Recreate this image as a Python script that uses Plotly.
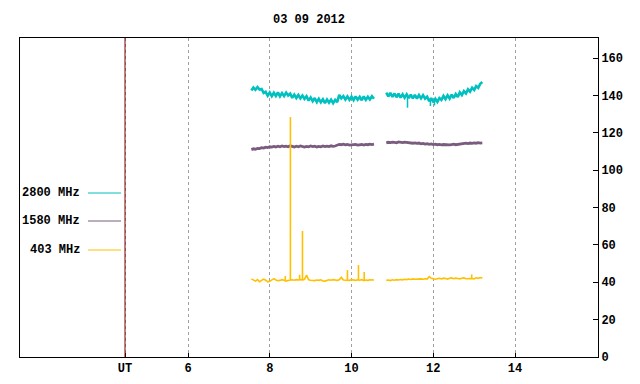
import plotly.graph_objects as go

# ---------------- data ----------------
title_text = "03 09 2012"
series_names = ["2800 MHz", "1580 MHz", "403 MHz"]
series_colors = ["#00c0c0", "#7a5c7e", "#ffc000"]

# sampling times (UT hours) of the two observing segments
t_seg1 = [round(7.55 + 0.05 * i, 2) for i in range(61)]   # 7.55 .. 10.55
t_seg2 = [round(10.85 + 0.05 * i, 2) for i in range(48)]  # 10.85 .. 13.20

f2800_seg1 = [142.6, 144.2, 143.0, 144.4, 143.1, 143.4, 141.3, 141.9, 139.8, 141.5,
              139.6, 141.4, 139.7, 141.6, 139.5, 141.2, 139.6, 141.5, 139.9, 140.9,
              138.7, 140.4, 138.6, 140.2, 138.4, 139.9, 138.1, 139.5, 137.2, 138.9,
              136.9, 138.6, 136.4, 138.2, 136.3, 137.9, 135.9, 137.8, 136.1, 137.7,
              135.8, 137.6, 136.4, 140.3, 138.4, 139.6, 137.8, 139.4, 137.6, 139.3,
              137.5, 139.5, 137.7, 139.2, 137.4, 139.4, 137.6, 139.3, 137.8, 139.5,
              138.2]
f2800_seg2 = [141.5, 139.4, 141.3, 139.2, 141.0, 139.0, 140.9, 138.8, 140.6, 138.7,
              140.5, 138.5, 140.4, 138.4, 140.3, 138.3, 140.2, 138.4, 140.1, 138.2,
              139.3, 136.8, 138.5, 136.3, 138.2, 136.5, 138.6, 137.6, 139.7, 138.0,
              140.0, 138.3, 140.4, 138.6, 140.7, 139.1, 141.6, 140.2, 142.3, 141.0,
              143.2, 142.0, 144.1, 142.9, 145.0, 144.0, 146.2, 147.1]
# short downward glitches on 2800 MHz (time, level, low)
dip_t = [9.15, 11.37, 11.93, 12.03]
dip_level = [137.0, 139.5, 137.5, 137.5]
dip_low = [135.3, 133.4, 134.3, 134.6]

f1580_seg1 = [111.0, 111.4, 111.2, 111.6, 111.5, 112.0, 111.8, 112.3, 112.1, 112.5,
              112.3, 112.7, 112.4, 112.8, 112.5, 112.9, 112.6, 112.8, 112.5, 113.0,
              112.7, 112.4, 112.8, 112.5, 112.9, 112.6, 112.3, 112.7, 112.5, 112.9,
              112.6, 112.8, 112.4, 112.7, 112.5, 112.9, 112.6, 112.8, 112.6, 113.0,
              112.7, 112.9, 113.2, 113.8, 113.6, 113.9, 113.5, 113.7, 113.4, 113.6,
              113.5, 113.8, 113.4, 113.6, 113.7, 113.4, 113.8, 113.6, 113.9, 113.7,
              113.9]
f1580_seg2 = [114.6, 114.9, 114.7, 115.0, 114.8, 114.6, 115.1, 114.9, 114.7, 115.0,
              114.8, 114.5, 114.7, 114.4, 114.6, 114.3, 114.5, 114.1, 114.3, 113.9,
              114.1, 113.8, 114.0, 113.7, 113.9, 113.6, 113.8, 113.5, 113.7, 113.6,
              113.8, 113.5, 113.7, 113.9, 113.6, 113.8, 114.0, 114.3, 114.1, 114.4,
              114.2, 114.5, 114.3, 114.6, 114.4, 114.7, 114.5, 114.6]

f403_seg1 = [41.8, 41.2, 40.6, 41.4, 40.3, 41.0, 41.7, 41.1, 40.2, 40.5,
             41.3, 41.9, 41.2, 40.8, 41.0, 41.4, 41.1, 40.6, 40.9, 41.2,
             41.3, 41.1, 41.4, 41.2, 41.5, 41.3, 41.6, 43.8, 41.3, 41.1,
             40.8, 40.9, 41.2, 41.0, 41.3, 40.7, 40.6, 41.0, 41.3, 41.1,
             41.4, 41.2, 41.0, 41.3, 42.6, 41.2, 41.1, 41.3, 41.0, 41.4,
             41.2, 41.0, 41.3, 41.1, 41.4, 40.9, 41.2, 41.0, 41.3, 41.1,
             41.2]
f403_seg2 = [41.0, 41.2, 40.9, 41.3, 41.1, 41.4, 41.2, 41.5, 41.3, 41.6,
             41.4, 41.7, 41.5, 41.8, 41.6, 41.7, 41.5, 41.8, 41.6, 41.9,
             41.7, 43.0, 42.1, 41.8, 41.6, 41.9, 42.1, 41.8, 42.2, 42.0,
             41.7, 42.1, 42.3, 41.9, 42.2, 42.0, 41.8, 42.1, 42.3, 41.9,
             42.0, 42.2, 42.0, 41.8, 42.4, 42.1, 42.5, 42.2]

# narrow bursts on 403 MHz (time, base, peak)
burst_t = [8.38, 8.505, 8.73, 8.80, 9.90, 10.17, 10.31, 12.94]
burst_base = [41.0, 41.0, 41.0, 41.0, 41.0, 41.0, 41.0, 42.0]
burst_peak = [43.3, 128.4, 44.0, 67.4, 46.5, 49.2, 45.5, 44.2]

x_tick_vals = [4.459, 6, 8, 10, 12, 14]
x_tick_text = ["UT", "6", "8", "10", "12", "14"]
y_tick_vals = [0, 20, 40, 60, 80, 100, 120, 140, 160]
x_range = [1.89, 16.03]
y_range = [0, 170.7]
ut_marker = 4.459

# ---------------- figure ----------------
# the page body has an 8px margin, so the figure starts at (8, 8)
OFF = 8
W, H = 640 - OFF, 384 - OFF
ML, MR, MT, MB = 20 - OFF, 42, 38 - OFF, 27
PW, PH = W - ML - MR, H - MT - MB

FONT = dict(family="Liberation Mono, DejaVu Sans Mono, monospace", size=12, color="black", weight="bold")

fig = go.Figure()

def joined(a, b):
    return a + [None] + b

seg_data = [(f2800_seg1, f2800_seg2, 2.6), (f1580_seg1, f1580_seg2, 2.8), (f403_seg1, f403_seg2, 1.6)]
for name, color, (s1, s2, lw) in zip(series_names, series_colors, seg_data):
    fig.add_trace(go.Scatter(x=joined(t_seg1, t_seg2), y=joined(s1, s2), mode="lines",
                             line=dict(color=color, width=lw), name=name,
                             connectgaps=False, showlegend=False, hoverinfo="skip"))

dx, dy = [], []
for t, lv, lo in zip(dip_t, dip_level, dip_low):
    dx += [t, t, None]
    dy += [lv, lo, None]
fig.add_trace(go.Scatter(x=dx, y=dy, mode="lines", line=dict(color=series_colors[0], width=1.5),
                         showlegend=False, hoverinfo="skip"))

bx, by = [], []
for t, b, p in zip(burst_t, burst_base, burst_peak):
    bx += [t, t, None]
    by += [b, p, None]
fig.add_trace(go.Scatter(x=bx, y=by, mode="lines", line=dict(color=series_colors[2], width=1.6),
                         showlegend=False, hoverinfo="skip"))

# UT marker line
fig.add_shape(type="line", xref="x", yref="paper", x0=ut_marker, x1=ut_marker, y0=0, y1=1,
              line=dict(color="#800000", width=1), layer="above")

# hand-drawn legend at left (positions in paper units of the plot area)
legend_py = [193, 221, 250]   # page pixel rows
PLOT_TOP_PAGE = 38
for name, color, py in zip(series_names, series_colors, legend_py):
    yp = 1 - (py - PLOT_TOP_PAGE) / PH
    fig.add_annotation(text=name, xref="paper", yref="paper",
                       x=(82 - 20) / PW, y=yp, xanchor="right", yanchor="middle",
                       showarrow=False, font=FONT)
    fig.add_shape(type="line", xref="paper", yref="paper",
                  x0=(88 - 20) / PW, x1=(121 - 20) / PW, y0=yp, y1=yp,
                  line=dict(color=color, width=1))

fig.update_layout(
    width=W, height=H,
    margin=dict(l=ML, r=MR, t=MT, b=MB),
    paper_bgcolor="white", plot_bgcolor="white",
    font=FONT,
    title=dict(text=title_text, x=(ML + PW / 2) / W, xanchor="center",
               y=1 - (19 - OFF) / H, yanchor="middle", font=FONT),
    showlegend=False,
)
fig.update_xaxes(range=x_range, tickvals=x_tick_vals, ticktext=x_tick_text,
                 showgrid=True, gridcolor="#a0a0a0", griddash="dot", gridwidth=1,
                 ticks="inside", ticklen=4, tickcolor="black",
                 showline=True, linecolor="black", linewidth=1, mirror=True,
                 zeroline=False, tickfont=FONT, automargin=False)
fig.update_yaxes(range=y_range, tickvals=y_tick_vals, side="right",
                 showgrid=False, ticks="inside", ticklen=5, tickcolor="black",
                 showline=True, linecolor="black", linewidth=1, mirror=True,
                 zeroline=False, tickfont=FONT, automargin=False)

fig.write_html("out.html")
